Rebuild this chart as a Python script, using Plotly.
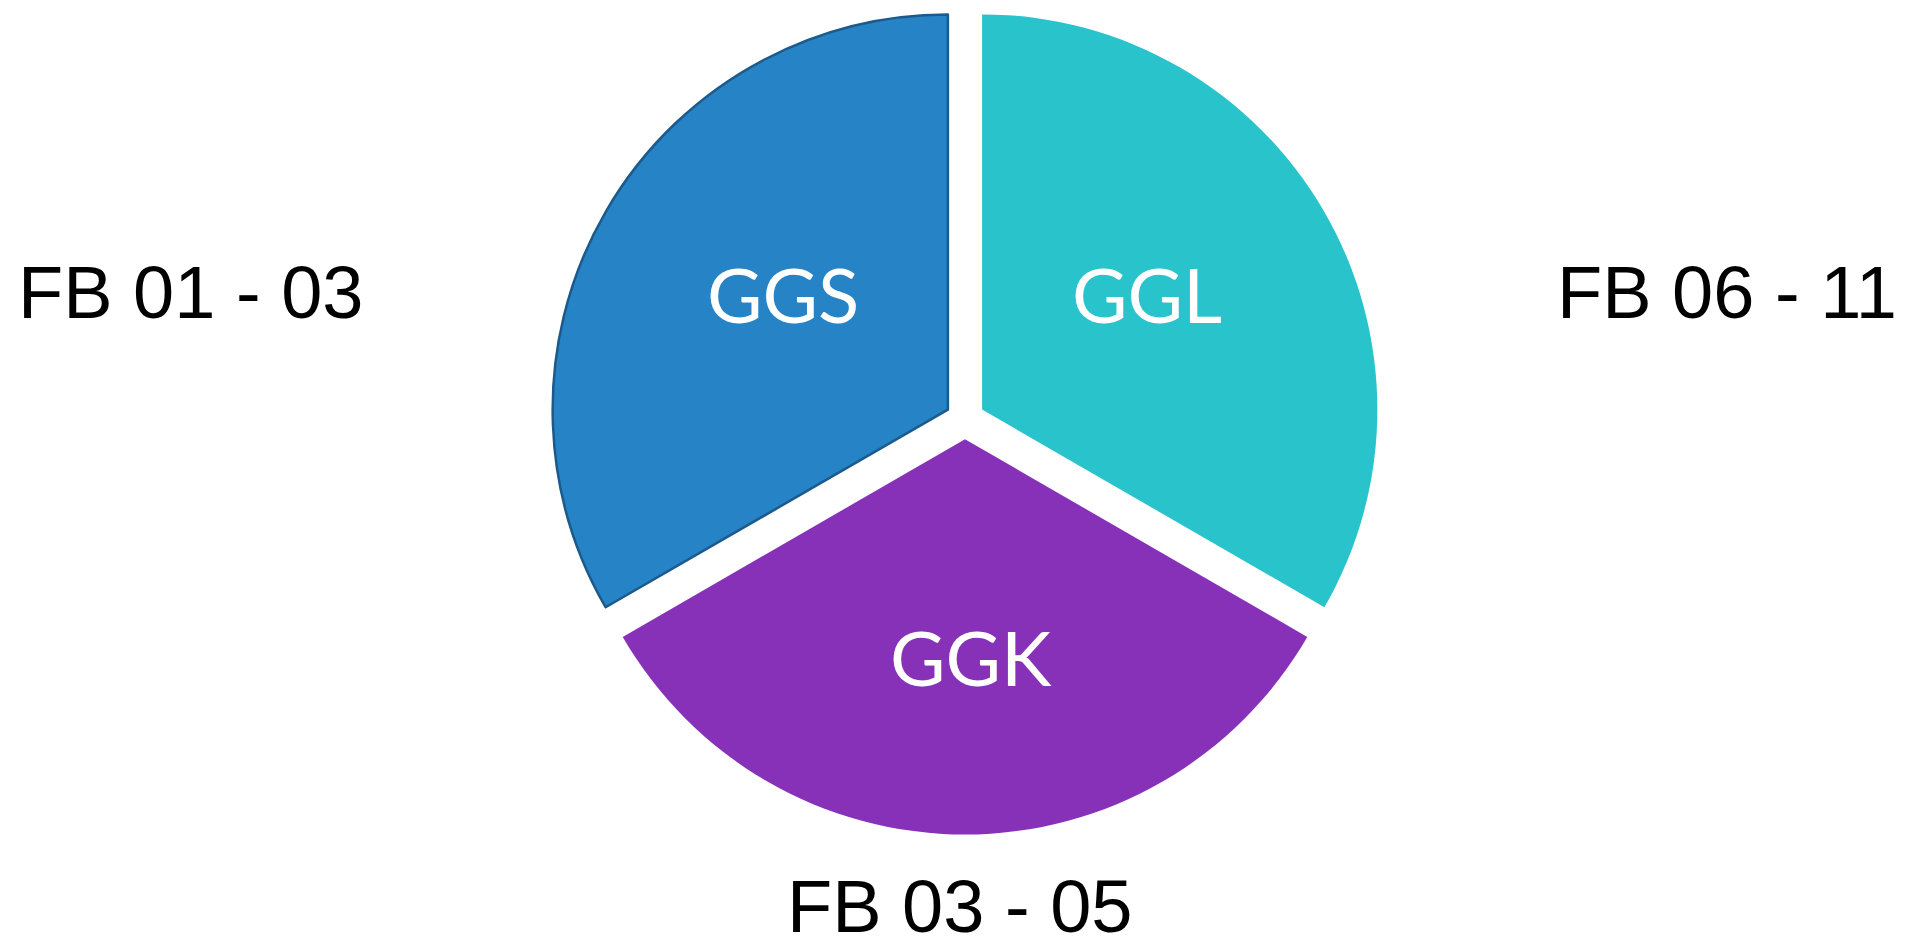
import plotly.graph_objects as go

# Data
slice_labels = ["GGL", "GGS", "GGK"]
slice_values = [1, 1, 1]
slice_colors = ["#28C3CB", "#2683C6", "#8731B8"]
slice_lines = ["rgba(0,0,0,0)", "#1C5A8C", "rgba(0,0,0,0)"]
slice_line_widths = [0, 2.5, 0]
outer_labels = ["FB 01 - 03", "FB 03 - 05", "FB 06 - 11"]

W, H = 1913, 937
cx_px, cy_top, cy_bot = 965, 4.5, 834.5
half = (cy_bot - cy_top) / 2

fig = go.Figure(go.Pie(
    labels=slice_labels,
    values=slice_values,
    sort=False,
    direction="counterclockwise",
    rotation=0,
    pull=[0.05, 0.05, 0.05],
    marker=dict(colors=slice_colors,
                line=dict(color=slice_lines, width=slice_line_widths)),
    textinfo="none",
    hoverinfo="label",
    domain=dict(x=[(cx_px - half - 5) / W, (cx_px + half + 5) / W],
                y=[(H - cy_bot) / H, (H - cy_top) / H]),
    showlegend=False,
))

# inside slice labels
font_in = dict(family="Lato, Open Sans, sans-serif", size=76, color="white")
inner_pos = {"GGS": (783, 293), "GGL": (1147, 293), "GGK": (971, 656)}
for name in slice_labels:
    px, py = inner_pos[name]
    fig.add_annotation(text=name, x=px / W, y=1 - py / H, xref="paper", yref="paper",
                       xanchor="center", yanchor="middle", showarrow=False, font=font_in)

font_out = dict(family="Arial, Liberation Sans, sans-serif", size=74, color="black")
fig.add_annotation(text=outer_labels[0], x=16 / W, y=1 - 292 / H, xref="paper", yref="paper",
                   xanchor="left", yanchor="middle", showarrow=False, font=font_out)
fig.add_annotation(text=outer_labels[1], x=960 / W, y=1 - 906.5 / H, xref="paper", yref="paper",
                   xanchor="center", yanchor="middle", showarrow=False, font=font_out)
fig.add_annotation(text=outer_labels[2], x=1899 / W, y=1 - 292 / H, xref="paper", yref="paper",
                   xanchor="right", yanchor="middle", showarrow=False, font=font_out)

fig.update_layout(width=W, height=H, margin=dict(l=0, r=0, t=0, b=0),
                  paper_bgcolor="white", plot_bgcolor="white")

fig.write_html("out.html", config={"displayModeBar": False},
               post_script="document.body.style.margin='0';")
